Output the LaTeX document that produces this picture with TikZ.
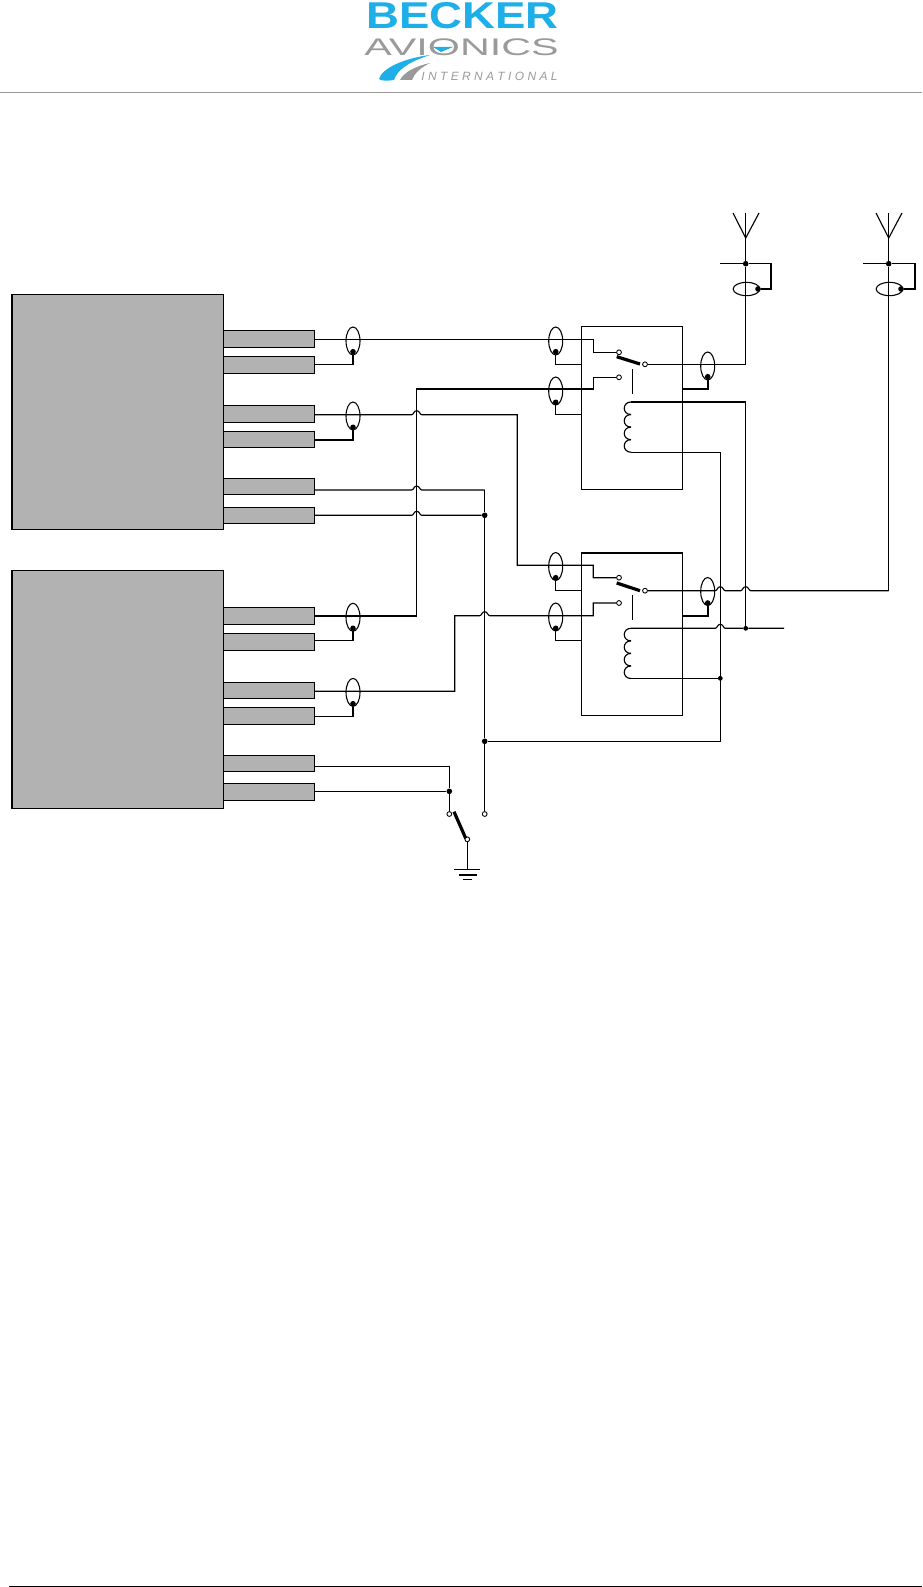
\documentclass[tikz,border=0pt]{standalone}
\usepackage{fontspec}
\setmainfont{Liberation Sans}
\usetikzlibrary{positioning,calc,shapes.geometric}
\definecolor{panelgray}{HTML}{B2B2B2}
\definecolor{logoblue}{HTML}{1EAEE8}
\definecolor{logogray}{HTML}{9A9A9A}
% hop of a horizontal wire over a vertical one
\newcommand{\hopat}[2]{-- (#1-5,#2) .. controls (#1-3,#2) and (#1-3,#2-4) .. (#1,#2-4) .. controls (#1+3,#2-4) and (#1+3,#2) .. (#1+5,#2)}
\tikzset{
  wire/.style={line width=0.85pt},
  heavywire/.style={line width=1.5pt},
  panel/.style={draw,fill=panelgray,line width=0.9pt,inner sep=0pt,minimum width=158.5pt},
  stub/.style={draw,fill=panelgray,line width=0.8pt,inner sep=0pt,minimum width=68.25pt,minimum height=12.4pt},
  relaybox/.style={draw,line width=0.85pt,inner sep=0pt,minimum width=75.5pt,minimum height=121.9pt},
  shieldv/.style={draw,ellipse,line width=0.8pt,inner sep=0pt,minimum width=10.5pt,minimum height=21pt},
  shieldh/.style={draw,ellipse,line width=0.8pt,inner sep=0pt,minimum width=20pt,minimum height=10pt},
  joint/.style={circle,fill=black,inner sep=0pt,minimum size=4.2pt},
  contact/.style={circle,draw,fill=white,line width=0.65pt,inner sep=0pt,minimum size=3.6pt},
  blade/.style={line width=2.4pt},
}
\begin{document}
\begin{tikzpicture}[x=0.75pt,y=-0.75pt]
  \useasboundingbox (0,0) rectangle (922,1587);

  % header logo
  \node[text=logoblue,font=\bfseries,scale=2.8,xscale=1.22,inner sep=0pt] (logotop) at (462.5,15.5) {BECKER};
  \node[text=logogray,scale=1.8,xscale=1.72,inner sep=0pt] (logomid) at (461.5,47) {AVIONICS};
  \node[text=logogray,font=\itshape,scale=0.9,inner sep=0pt] (logolow) at (489.5,76) {I N T E R N A T I O N A L};
  \fill[logoblue] (379,79) .. controls (382,68) and (405,58) .. (430,55) .. controls (412,61) and (398,68) .. (394,80) .. controls (388,81) and (380,81) .. (379,79) -- cycle;
  \fill[logogray] (400,80) .. controls (404,72) and (416,66) .. (430,63) .. controls (420,68) and (414,74) .. (412,80) -- cycle;
  \fill[logoblue] (433,47) -- (453,47) -- (441,52) -- cycle;
  \draw[logogray,line width=0.75pt] (0,92.3) -- (922,92.3);
  \draw[line width=0.9pt] (9,1586.3) -- (922,1586.3);

  % radio panels
  \node[panel,minimum height=176.25pt] (radioA) at (117.65,411.8) {};
  \node[panel,minimum height=178.5pt] (radioB) at (117.65,689.3) {};

  % connector stubs: name / centre / wire height
  \foreach \n/\c/\w in {a1/338.8/339.3,a2/364.8/364.3,a3/413.8/414.7,a4/439.3/440,a5/486.3/490,a6/515.3/515.3,
                        b1/615.8/615.7,b2/641.8/640.3,b3/690.3/691.3,b4/715.8/716.3,b5/763.3/766.3,b6/791.8/791.3}{
    \node[stub] (\n) at (269,\c) {};
    \coordinate (\n w) at (314.7,\w);
  }

  % relays
  \node[relaybox] (relayA) at (632,407.8) {};
  \node[relaybox] (relayB) at (632,634.3) {};
  \draw[line width=1.4pt] (relayB.north west) -- (relayB.north east);

  % shields
  \node[shieldv] (shA1) at (353,341) {};
  \node[shieldv] (shA3) at (353,416) {};
  \node[shieldv] (shB1) at (353,617.3) {};
  \node[shieldv] (shB3) at (353,692.4) {};
  \node[shieldv] (shR1) at (555.7,341) {};
  \node[shieldv] (shR2) at (555.7,391) {};
  \node[shieldv] (shR3) at (707.7,366) {};
  \node[shieldv] (shS1) at (555.7,566.5) {};
  \node[shieldv] (shS2) at (555.7,617) {};
  \node[shieldv] (shS3) at (707.7,591.5) {};
  \node[shieldh] (shT1) at (746.5,289) {};
  \node[shieldh] (shT2) at (889.5,289) {};

  % shield grounds
  \node[joint] (gA1) at (353,351.7) {};
  \node[joint] (gA3) at (353,427.3) {};
  \node[joint] (gB1) at (353,628.3) {};
  \node[joint] (gB3) at (353,703.7) {};
  \node[joint] (gR1) at (555.7,351.7) {};
  \node[joint] (gR2) at (555.7,402.3) {};
  \node[joint] (gR3) at (707.7,376.7) {};
  \node[joint] (gS1) at (555.7,577.7) {};
  \node[joint] (gS2) at (555.7,628.3) {};
  \node[joint] (gS3) at (707.7,603) {};
  \node[joint] (gT1) at (758,289) {};
  \node[joint] (gT2) at (901,289) {};

  % relay contacts
  \node[contact] (nA) at (619,352.3) {};
  \node[contact] (mA) at (619,377.3) {};
  \node[contact] (cA) at (645,364.3) {};
  \node[contact] (nB) at (619,577.7) {};
  \node[contact] (mB) at (619,603) {};
  \node[contact] (cB) at (645,590.7) {};
  \draw[blade] (616.7,356.7) -- (640,364);
  \draw[blade] (616.7,583) -- (640,590.7);
  \draw[wire] (632.7,369.3) -- (632.7,394.3);
  \draw[wire] (632.7,595.3) -- (632.7,620.3);

  % relay coils
  \coordinate (coilAtop) at (631,402);
  \coordinate (coilAlow) at (631,452.3);
  \coordinate (coilBtop) at (631,628.3);
  \coordinate (coilBlow) at (631,678.3);
  \foreach \s in {402,628.3}{
    \foreach \k in {0,1,2,3}{
      \draw[wire] (631,\s+\k*12.55) .. controls (622,\s+\k*12.55) and (622,\s+\k*12.55+12.55) .. (631,\s+\k*12.55+12.55);
    }
  }

  % junctions
  \node[joint] (jV) at (484.7,515.3) {};
  \node[joint] (jW) at (484.7,741.3) {};
  \node[joint] (jK) at (449.3,791.3) {};
  \node[joint,minimum size=3.6pt] (jC) at (720.3,678.3) {};
  \node[joint,minimum size=3.6pt] (jD) at (745.7,628.3) {};
  \node[joint] (jT1) at (745.7,263.7) {};
  \node[joint] (jT2) at (888.7,263.7) {};

  % wiring to relays
  \draw[wire] (a1w) -- (593.3,339.3) |- (nA);
  \draw[wire] (a2w) -| (gA1);
  \draw[wire] (a3w) \hopat{416.7}{414.7} -- (517.3,414.7) |- (593.3,565.3) |- (nB);
  \draw[wire] (a4w) -| (gA3);
  \draw[wire] (a5w) \hopat{416.7}{490} -- (484.7,490);
  \draw[wire] (a6w) \hopat{416.7}{515.3} -- (jV);
  \draw[heavywire] (b1w) -- (416.7,615.7);
  \draw[wire] (416.7,616.3) -- (416.7,389) -- (593.3,389) |- (mA);
  \draw[wire] (b2w) -| (gB1);
  \draw[wire] (b3w) -- (454.7,691.3) -- (454.7,615.7) \hopat{484.7}{615.7} -- (593.3,615.7) |- (mB);
  \draw[wire] (b4w) -| (gB3);
  \draw[wire] (b5w) -- (449.3,766.3) -- (jK);
  \draw[wire] (b6w) -- (jK);

  % shield returns at the relays
  \draw[wire] (gR1) |- (relayA.west |- 0,364.3);
  \draw[wire] (gR2) |- (relayA.west |- 0,414.7);
  \draw[wire] (gS1) |- (relayB.west |- 0,590.3);
  \draw[wire] (gS2) |- (relayB.west |- 0,640.3);
  \draw[heavywire] (gR3) |- (relayA.east |- 0,389);
  \draw[heavywire] (gS3) |- (relayB.east |- 0,615.7);

  % coil supply
  \draw[wire] (jW) -- (720.3,741.3) -- (720.3,452.3) -- (coilAlow);
  \draw[wire] (coilAtop) -- (745.7,402) -- (jD);
  \draw[wire] (coilBlow) -- (jC);
  \draw[wire] (coilBtop) \hopat{720.3}{628.3} -- (jD) -- (784,628.3);

  % antenna 1
  \draw[wire] (745.7,213) -- (745.7,238);
  \draw[wire] (733,213) -- (745.7,238) -- (759,213);
  \draw[wire] (745.7,238) -- (jT1) -- (745.7,364.3) -- (cA);
  \draw[wire] (720,263.7) -- (jT1) -- (771,263.7) |- (gT1);

  % antenna 2
  \draw[wire] (888.7,213) -- (888.7,238);
  \draw[wire] (876,213) -- (888.7,238) -- (902,213);
  \draw[wire] (888.7,238) -- (jT2) -- (888.7,590.7);
  \draw[wire] (cB) \hopat{720.3}{590.7} \hopat{745.7}{590.7} -- (888.7,590.7);
  \draw[wire] (863,263.7) -- (jT2) -- (915,263.7) |- (gT2);

  % panel switch and ground
  \node[contact] (swL) at (449.3,814) {};
  \node[contact] (swR) at (484.7,814) {};
  \node[contact] (swG) at (467.3,839.3) {};
  \draw[wire] (jK) -- (swL);
  \draw[wire] (484.7,490) -- (jV) -- (jW) -- (swR);
  \draw[blade] (454,811.7) -- (465.7,838.3);
  \coordinate (gndtop) at (467.3,869.3);
  \draw[wire] (swG) -- (gndtop);
  \draw[wire] (454.3,869.3) -- (480,869.3);
  \draw[line width=1.2pt] (458.7,874.7) -- (476.7,874.7);
  \draw[wire] (462.7,879.5) -- (472,879.5);
\end{tikzpicture}
\end{document}
